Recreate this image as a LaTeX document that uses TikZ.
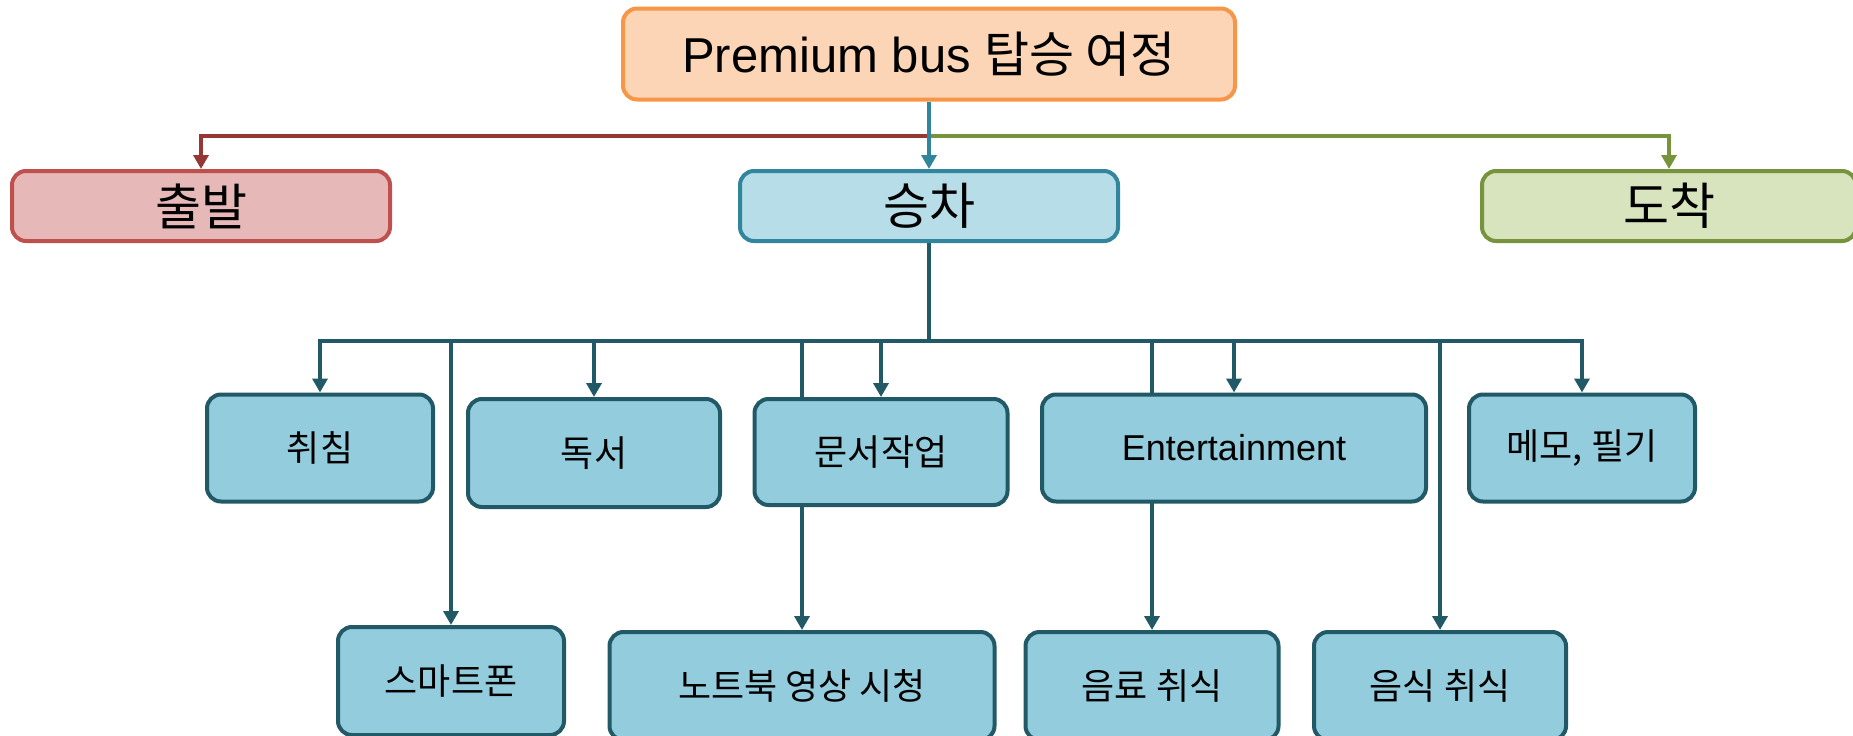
\documentclass[tikz,border=0pt]{standalone}
\usepackage{fontspec}
\setmainfont{Liberation Sans}
\newfontfamily\kr{Noto Sans CJK KR}
\usetikzlibrary{arrows.meta,backgrounds}
\definecolor{topline}{HTML}{F79646}
\definecolor{topfill}{HTML}{FBD5B5}
\definecolor{depline}{HTML}{C0504D}
\definecolor{depfill}{HTML}{E6B9B8}
\definecolor{deparrow}{HTML}{953735}
\definecolor{rideline}{HTML}{31859C}
\definecolor{ridefill}{HTML}{B7DEE8}
\definecolor{arrline}{HTML}{77933C}
\definecolor{arrfill}{HTML}{D7E4BD}
\definecolor{taskline}{HTML}{215967}
\definecolor{taskfill}{HTML}{93CDDD}

\begin{document}
\begin{tikzpicture}[x=1pt,y=-1pt,>={Triangle[width=15pt,length=14pt]},
	box/.style={rounded corners=14pt,line width=4pt,inner sep=0pt},
	stage/.style={box,minimum width=378pt,minimum height=70pt,font=\fontsize{50}{56}\selectfont\kr},
	task/.style={box,draw=taskline,fill=taskfill,minimum height=107pt,font=\fontsize{36}{42}\selectfont},
	link/.style={->,line width=3.5pt}]
		\useasboundingbox (0,0) rectangle (1853,736);
		
		\node[box,draw=topline,fill=topfill,minimum width=612pt,minimum height=91pt,font=\fontsize{49}{54}\selectfont] (top) at (929,54) {Premium bus {\kr 탑승 여정}};
		
		\node[stage,draw=depline,fill=depfill] (dep) at (201,206) {출발};
		\node[stage,draw=rideline,fill=ridefill] (ride) at (929,206) {승차};
		\node[stage,draw=arrline,fill=arrfill,minimum width=374pt] (arr) at (1669,206) {도착};
		
		\node[task,minimum width=226pt] (sleep) at (320,448) {\kr 취침};
		\node[task,minimum width=252pt,minimum height=108pt] (read) at (594,453) {\kr 독서};
		\node[task,minimum width=253pt,minimum height=106pt] (doc) at (881,452) {\kr 문서작업};
		\node[task,minimum width=384pt] (ent) at (1234,448) {Entertainment};
		\node[task,minimum width=226pt] (memo) at (1582,448) {\kr 메모, 필기};
		
		\node[task,minimum width=226pt,minimum height=108pt] (phone) at (451,681) {\kr 스마트폰};
		\node[task,minimum width=385pt,minimum height=108pt] (laptop) at (802,686) {\kr 노트북 영상 시청};
		\node[task,minimum width=253pt,minimum height=108pt] (drink) at (1152,686) {\kr 음료 취식};
		\node[task,minimum width=252pt,minimum height=108pt] (food) at (1440,686) {\kr 음식 취식};
		
		\coordinate (split) at (929,136);
		\coordinate (hub) at (929,341);
		
		\begin{scope}[on background layer]
			\draw[link,deparrow] (split) -| (dep.north);
			\draw[link,arrline] (split) -| (arr.north);
			\draw[link,rideline] (top.south) -- (ride.north);
			
			\draw[link,-,taskline] (ride.south) -- (hub);
			\foreach \t in {sleep,phone,read,laptop,doc,drink,ent,food,memo}
				\draw[link,taskline] (hub) -| (\t.north);
		\end{scope}
	\end{tikzpicture}
\end{document}
